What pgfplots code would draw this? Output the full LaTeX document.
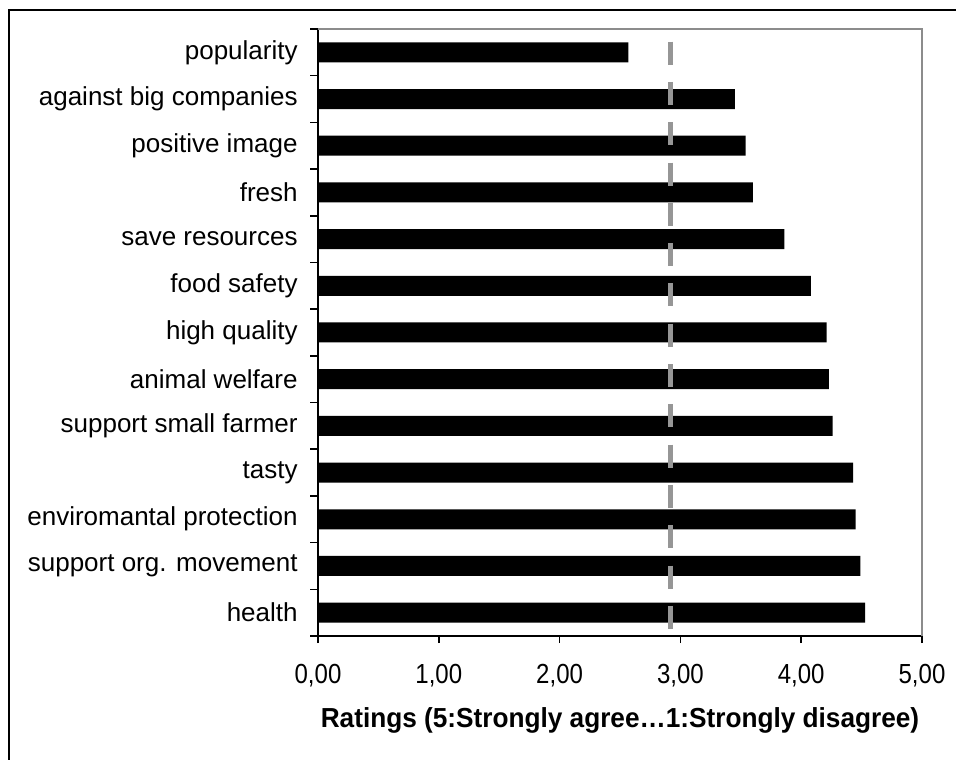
\documentclass[border=0pt]{standalone}
\usepackage{pgfplots}
\pgfplotsset{compat=1.18}
\usepackage{fontspec}
\setmainfont{Liberation Sans}
\definecolor{dashgray}{HTML}{969696}
\definecolor{boxgray}{HTML}{8C8C8C}
\begin{document}
\begin{tikzpicture}
\useasboundingbox (0,0) rectangle (478bp,380bp);
\draw[line width=1bp, black] (4.5bp,0) -- (4.5bp,375bp) -- (478bp,375bp);
\begin{axis}[
  at={(159bp,62bp)}, anchor=south west,
  scale only axis, width=302bp, height=303.5bp,
  xmin=0, xmax=5, ymin=-0.5, ymax=12.5,
  axis x line*=bottom, axis y line*=left,
  axis line style={-, black, line width=0.75bp},
  xtick={0,1,2,3,4,5},
  xticklabels={{0,00},{1,00},{2,00},{3,00},{4,00},{5,00}},
  ytick={0,...,12},
  yticklabels={health, support org. movement, enviromantal protection, tasty, support small farmer, animal welfare, high quality, food safety, save resources, fresh, positive image, against big companies, popularity},
  minor ytick={-0.5,0.5,...,12.5},
  tick align=outside,
  major tick length=3.5bp, minor tick length=3.75bp,
  major y tick style={draw=none},
  minor y tick style={black, line width=0.75bp},
  major x tick style={black, line width=0.75bp},
  yticklabel style={font=\fontsize{13bp}{15.6bp}\selectfont, black, inner sep=0pt, xshift=-6.5bp},
  xticklabel style={font=\fontsize{12bp}{14.4bp}\selectfont, black, inner sep=0pt, yshift=-10.5bp, yscale=1.15},
  xlabel={\bfseries Ratings (5:Strongly agree…1:Strongly disagree)},
  xlabel style={font=\fontsize{13.1bp}{15.7bp}\selectfont, inner sep=0pt, yshift=-10bp, yscale=1.05},
  clip=false,
]
\draw[boxgray, line width=1bp] (rel axis cs:0,1) -- (rel axis cs:1,1) -- (rel axis cs:1,0);
\addplot[xbar, fill=black, draw=none, bar width=10bp, bar shift=0pt] coordinates {
  (4.53,0) (4.49,1) (4.45,2) (4.43,3) (4.26,4) (4.23,5) (4.21,6)
  (4.08,7) (3.86,8) (3.60,9) (3.54,10) (3.45,11) (2.57,12)
};
\addplot[dashgray, line width=2.5bp, dash pattern=on 11.5bp off 8.65bp, dash phase=13.8bp] coordinates {(2.916,12.5) (2.916,-0.5)};
\end{axis}
\end{tikzpicture}
\end{document}
